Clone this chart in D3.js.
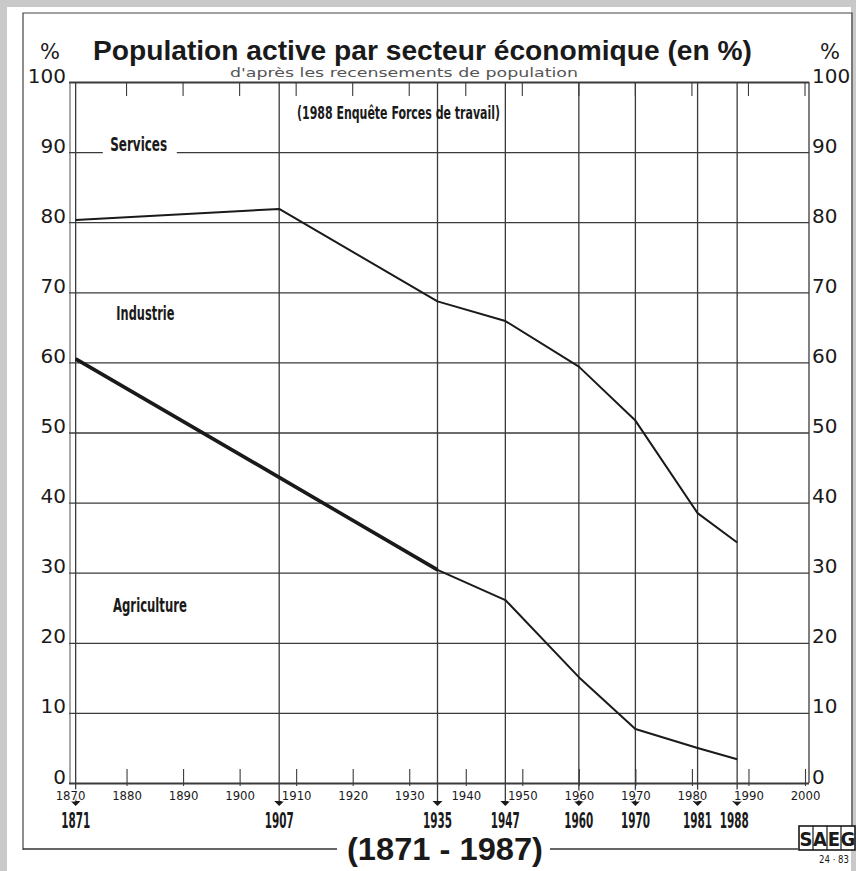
<!DOCTYPE html>
<html>
<head>
<meta charset="utf-8">
<script src="https://cdn.jsdelivr.net/npm/d3@7"></script>
<style>
  html, body { margin: 0; padding: 0; background: #c9c9c9; }
  svg { display: block; }
  .narrow { font-family: "Liberation Sans Narrow", "DejaVu Sans Condensed", "Roboto Condensed", sans-serif; font-stretch: condensed; }
  .grot { font-family: "DejaVu Sans", "Liberation Sans", sans-serif; }
</style>
</head>
<body>
<svg id="chart" width="856" height="871"></svg>
<script>
// Census / survey years and the share of the working population by sector (%)
const censusYears = [1871, 1907, 1935, 1947, 1960, 1970, 1981, 1988];
const agriculture = [60.5, 43.6, 30.4, 26.1, 15.1, 7.7, 5.0, 3.4];
const industrie   = [19.8, 38.3, 38.3, 39.8, 44.3, 44.0, 33.5, 30.9];
const services    = [19.7, 18.1, 31.3, 34.1, 40.6, 48.3, 61.5, 65.7];

// Axis ticks
const percentTicks = [0, 10, 20, 30, 40, 50, 60, 70, 80, 90, 100];
const decadeTicks = [1870, 1880, 1890, 1900, 1910, 1920, 1930, 1940, 1950, 1960, 1970, 1980, 1990, 2000];

// Texts
const titleText = "Population active par secteur économique  (en %)";
const subtitleText = "d'après les recensements de population";
const noteText = "(1988 Enquête Forces de travail)";
const periodText = "(1871 - 1987)";
const sectorNames = ["Services", "Industrie", "Agriculture"];

const svg = d3.select("#chart");
const ink = "#1a1a1a";
const gridInk = "#3b3b3b";

// Paper sheet and its frame
svg.append("rect").attr("x", 7).attr("y", 7).attr("width", 844).attr("height", 864).attr("fill", "#fff");
svg.append("path")
  .attr("d", "M23,850 V13 H852 V826")
  .attr("fill", "none").attr("stroke", "#444").attr("stroke-width", 1.2);

const x = d3.scaleLinear().domain([1870, 2000]).range([70, 805]);
const y = d3.scaleLinear().domain([0, 100]).range([783, 82]);
const plotLeft = 69, plotRight = 809;

// Horizontal grid (one line per 10 %)
const grid = svg.append("g").attr("transform", `translate(${plotLeft},0)`)
  .call(d3.axisLeft(y).tickValues(percentTicks).tickSize(-(plotRight - plotLeft)).tickFormat(""));
grid.select(".domain").remove();
grid.selectAll(".tick line").attr("stroke", gridInk).attr("stroke-width", d => d === 100 || d === 0 ? 1.8 : 1.3);

// Left axis line and right frame of the plot
svg.append("line").attr("x1", x(1870)).attr("x2", x(1870)).attr("y1", y(100)).attr("y2", y(0))
  .attr("stroke", "#555").attr("stroke-width", 1);
svg.append("line").attr("x1", plotRight).attr("x2", plotRight).attr("y1", y(100)).attr("y2", y(0))
  .attr("stroke", gridInk).attr("stroke-width", 1.3);

// Percent labels on both sides
function styleSide(g) {
  g.select(".domain").remove();
  g.selectAll(".tick text")
    .attr("class", "grot")
    .attr("dy", "0").attr("y", 0)
    .attr("font-size", 20).attr("fill", ink);
}
svg.append("g").attr("transform", "translate(66,0)")
  .call(d3.axisLeft(y).tickValues(percentTicks).tickSize(0).tickPadding(0).tickFormat(d3.format("d")))
  .call(styleSide);
svg.append("g").attr("transform", "translate(812,0)")
  .call(d3.axisRight(y).tickValues(percentTicks).tickSize(0).tickPadding(0).tickFormat(d3.format("d")))
  .call(styleSide);
svg.append("text").attr("class", "grot").attr("x", 50).attr("y", 59).attr("text-anchor", "middle")
  .attr("font-size", 21).attr("fill", ink).text("%");
svg.append("text").attr("class", "grot").attr("x", 830).attr("y", 59).attr("text-anchor", "middle")
  .attr("font-size", 21).attr("fill", ink).text("%");

// Decade ticks hanging from the top line
svg.append("g").selectAll("line").data(decadeTicks.filter(d => d > 1870))
  .join("line")
  .attr("x1", d => x(d)).attr("x2", d => x(d))
  .attr("y1", y(100)).attr("y2", y(100) + 14)
  .attr("stroke", gridInk).attr("stroke-width", 1.1);

// Census verticals, running below the axis to an arrow
const census = svg.append("g");
census.selectAll("line").data(censusYears).join("line")
  .attr("x1", d => x(d)).attr("x2", d => x(d))
  .attr("y1", y(100)).attr("y2", 804)
  .attr("stroke", gridInk).attr("stroke-width", 1.3);
census.selectAll("path").data(censusYears).join("path")
  .attr("d", d => `M${x(d) - 5},801 L${x(d) + 5},801 L${x(d)},806 Z`)
  .attr("fill", ink);

// Bottom decade axis
const bottom = svg.append("g").attr("transform", `translate(0,${y(0)})`)
  .call(d3.axisBottom(x).tickValues(decadeTicks).tickSize(0).tickPadding(0).tickFormat(d3.format("d")));
bottom.select(".domain").remove();
bottom.selectAll(".tick text")
  .attr("class", "narrow")
  .attr("dy", "0").attr("y", 17)
  .attr("font-size", 13).attr("fill", ink)
  .attr("stroke", "#fff").attr("stroke-width", 3).attr("paint-order", "stroke");
bottom.selectAll(".tick").filter(d => d > 1870).insert("line", "text")
  .attr("y1", -14).attr("y2", 3)
  .attr("stroke", gridInk).attr("stroke-width", 1.1);

// Census year labels: tall condensed figures (the last one nudged clear of its neighbour)
svg.append("g").selectAll("text").data(censusYears).join("text")
  .attr("class", "narrow")
  .attr("x", (d, i) => x(d) - (i === censusYears.length - 1 ? 3 : 0)).attr("y", 828)
  .attr("text-anchor", "middle")
  .attr("font-size", 15).attr("font-weight", "bold").attr("fill", ink)
  .attr("textLength", 29).attr("lengthAdjust", "spacingAndGlyphs")
  .attr("transform", "translate(0,828) scale(1,1.36) translate(0,-828)")
  .text(d => d);

// Stacked shares: lower line = agriculture, upper line = agriculture + industrie
const rows = censusYears.map((yr, i) => ({ year: yr, agriculture: agriculture[i], industrie: industrie[i], services: services[i] }));
const stack = d3.stack().keys(["agriculture", "industrie", "services"])(rows);
const line = d3.line().x(d => x(d.data.year)).y(d => y(d[1]));

svg.append("path").datum(stack[1]).attr("d", line)
  .attr("fill", "none").attr("stroke", ink).attr("stroke-width", 2).attr("stroke-linejoin", "round");
svg.append("path").datum(stack[0]).attr("d", line)
  .attr("fill", "none").attr("stroke", ink).attr("stroke-width", 2).attr("stroke-linejoin", "round");
// the early agriculture stretch is drawn heavier
svg.append("path").datum(stack[0].slice(0, 3)).attr("d", line)
  .attr("fill", "none").attr("stroke", ink).attr("stroke-width", 3.6).attr("stroke-linejoin", "round");

// Sector names
function sectorLabel(name, year, value, width) {
  return svg.append("text").attr("class", "narrow")
    .attr("x", x(year)).attr("y", y(value))
    .attr("font-size", 19).attr("font-weight", "bold").attr("fill", ink)
    .attr("textLength", width).attr("lengthAdjust", "spacingAndGlyphs")
    .text(name);
}
// "Services" sits on the 90 % line, which is cut around it
svg.append("rect").attr("x", x(1875.8)).attr("y", y(90) - 3).attr("width", 74).attr("height", 6).attr("fill", "#fff");
sectorLabel(sectorNames[0], 1877.1, 90.1, 57);
sectorLabel(sectorNames[1], 1878.2, 66.0, 58);
sectorLabel(sectorNames[2], 1877.6, 24.4, 74);

// Source note
svg.append("text").attr("class", "narrow")
  .attr("x", 297).attr("y", 119)
  .attr("font-size", 17).attr("font-weight", "bold").attr("fill", ink)
  .attr("textLength", 203).attr("lengthAdjust", "spacingAndGlyphs")
  .text(noteText);

// Title and subtitle
svg.append("text").attr("x", 93).attr("y", 60)
  .attr("font-family", "'Liberation Sans', Arial, sans-serif")
  .attr("font-size", 27).attr("font-weight", "bold").attr("fill", ink)
  .attr("textLength", 659).attr("lengthAdjust", "spacingAndGlyphs")
  .text(titleText);
svg.append("text").attr("x", 230).attr("y", 77)
  .attr("font-family", "'DejaVu Sans', sans-serif")
  .attr("font-size", 11.5).attr("fill", "#555")
  .attr("textLength", 348).attr("lengthAdjust", "spacingAndGlyphs")
  .text(subtitleText);

// Period caption with its rule
svg.append("line").attr("x1", 23).attr("x2", 337).attr("y1", 849).attr("y2", 849).attr("stroke", "#333").attr("stroke-width", 1.3);
svg.append("line").attr("x1", 550).attr("x2", 798).attr("y1", 849).attr("y2", 849).attr("stroke", "#333").attr("stroke-width", 1.3);
svg.append("text").attr("x", 347).attr("y", 860)
  .attr("font-family", "'Liberation Sans', Arial, sans-serif")
  .attr("font-size", 31).attr("font-weight", "bold").attr("fill", ink)
  .attr("textLength", 196).attr("lengthAdjust", "spacingAndGlyphs")
  .text(periodText);

// Publisher mark
const logo = svg.append("g");
logo.append("rect").attr("x", 799).attr("y", 826).attr("width", 56).attr("height", 24)
  .attr("fill", "#fff").attr("stroke", ink).attr("stroke-width", 1.6);
["S", "A", "E", "G"].forEach((c, i) => {
  logo.append("text").attr("class", "narrow")
    .attr("x", 806 + i * 14).attr("y", 846).attr("text-anchor", "middle")
    .attr("font-size", 20).attr("font-weight", "bold").attr("fill", ink)
    .text(c);
  if (i > 0) logo.append("line").attr("x1", 799 + i * 14).attr("x2", 799 + i * 14)
    .attr("y1", 826).attr("y2", 850).attr("stroke", ink).attr("stroke-width", 1.2);
});
logo.append("text").attr("class", "narrow").attr("x", 819).attr("y", 863)
  .attr("font-size", 10).attr("fill", ink)
  .attr("textLength", 30).attr("lengthAdjust", "spacingAndGlyphs")
  .text("24 · 83");
</script>
</body>
</html>
